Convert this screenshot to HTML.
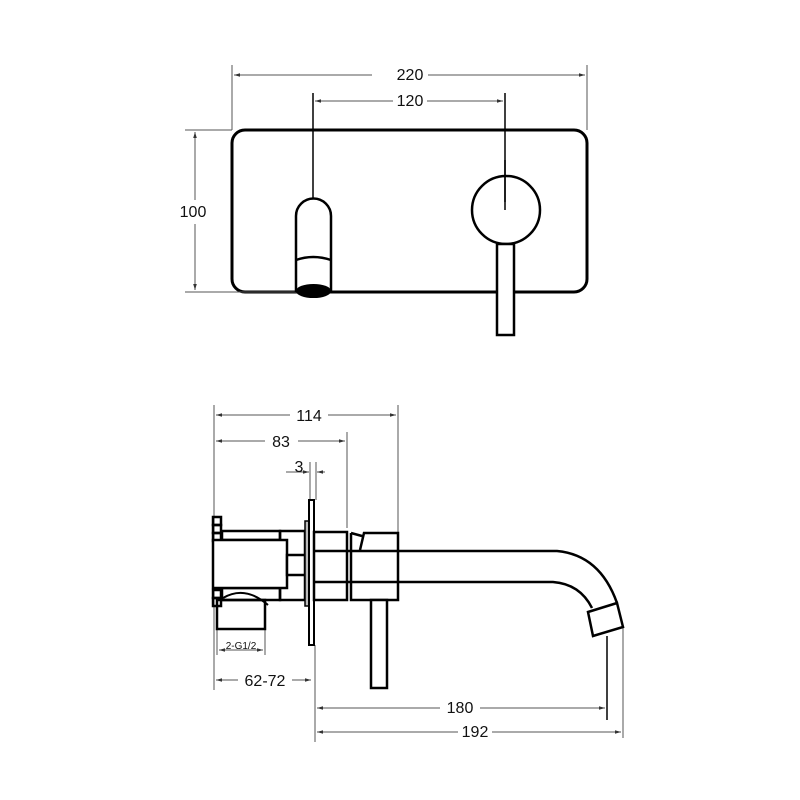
<!DOCTYPE html>
<html><head><style>
html,body{margin:0;padding:0;background:#fff;}
svg{display:block;}
text{font-family:"Liberation Sans",Arial,sans-serif;fill:#111;}
</style></head><body>
<svg width="800" height="800" viewBox="0 0 800 800" xmlns="http://www.w3.org/2000/svg">
<defs>
<marker id="a" viewBox="0 0 10 10" refX="10" refY="5" markerWidth="6" markerHeight="6" orient="auto-start-reverse"><path d="M0,2 L10,5 L0,8z" fill="#333"/></marker>
</defs>
<g fill="none" stroke="#000">
<rect x="232" y="130" width="355" height="162" rx="13" stroke-width="3"/>
<g stroke="#555" stroke-width="1">
<line x1="232" y1="65" x2="232" y2="130"/>
<line x1="587" y1="65" x2="587" y2="130"/>
<line x1="234" y1="75" x2="372" y2="75" marker-start="url(#a)"/>
<line x1="428" y1="75" x2="585" y2="75" marker-end="url(#a)"/>
<line x1="315" y1="101" x2="393" y2="101" marker-start="url(#a)"/>
<line x1="427" y1="101" x2="503" y2="101" marker-end="url(#a)"/>
<line x1="185" y1="130" x2="232" y2="130"/>
<line x1="185" y1="292" x2="300" y2="292"/>
<line x1="195" y1="132" x2="195" y2="200" marker-start="url(#a)"/>
<line x1="195" y1="224" x2="195" y2="290" marker-end="url(#a)"/>
</g>
<line x1="313" y1="93" x2="313" y2="199" stroke-width="1.5"/>
<line x1="505" y1="93" x2="505" y2="202" stroke-width="1.5"/>
<path d="M296,292 V216 A17.5,17.5 0 0 1 331,216 V292" stroke-width="2.5"/>
<path d="M296,260 Q313,254 331,260" stroke-width="2.5"/>
<ellipse cx="313.5" cy="291" rx="17" ry="6.5" fill="#000"/>
<circle cx="506" cy="210" r="34" stroke-width="2.5"/>
<rect x="497" y="244" width="17" height="91" stroke-width="2.5" fill="#fff"/>
<line x1="505" y1="210" x2="505" y2="160" stroke-width="1.5"/>

<g stroke="#555" stroke-width="1">
<line x1="214" y1="405" x2="214" y2="690"/>
<line x1="398" y1="405" x2="398" y2="532"/>
<line x1="347" y1="432" x2="347" y2="528"/>
<line x1="216" y1="415" x2="290" y2="415" marker-start="url(#a)"/>
<line x1="328" y1="415" x2="396" y2="415" marker-end="url(#a)"/>
<line x1="216" y1="441" x2="265" y2="441" marker-start="url(#a)"/>
<line x1="298" y1="441" x2="345" y2="441" marker-end="url(#a)"/>
<line x1="310" y1="462" x2="310" y2="500"/>
<line x1="316" y1="462" x2="316" y2="500"/>
<line x1="286" y1="472" x2="309" y2="472" marker-end="url(#a)"/>
<line x1="325" y1="472" x2="317" y2="472" marker-end="url(#a)"/>
<line x1="217" y1="630" x2="217" y2="655"/>
<line x1="265" y1="630" x2="265" y2="655"/>
<line x1="219" y1="650" x2="263" y2="650" marker-start="url(#a)" marker-end="url(#a)"/>
<line x1="216" y1="680" x2="238" y2="680" marker-start="url(#a)"/>
<line x1="292" y1="680" x2="311" y2="680" marker-end="url(#a)"/>
<line x1="315" y1="645" x2="315" y2="742"/>
<line x1="623" y1="628" x2="623" y2="738"/>
<line x1="317" y1="708" x2="440" y2="708" marker-start="url(#a)"/>
<line x1="480" y1="708" x2="605" y2="708" marker-end="url(#a)"/>
<line x1="317" y1="732" x2="458" y2="732" marker-start="url(#a)"/>
<line x1="492" y1="732" x2="621" y2="732" marker-end="url(#a)"/>
</g>
<line x1="607" y1="636" x2="607" y2="720" stroke-width="1.5"/>
<g stroke-width="2.5">
<rect x="213" y="517" width="8" height="8"/>
<rect x="213" y="525" width="8" height="8"/>
<rect x="213" y="533" width="8" height="8"/>
<rect x="213" y="590" width="8" height="8"/>
<rect x="213" y="598" width="8" height="8"/>
<rect x="222" y="531" width="58" height="9"/>
<rect x="280" y="531" width="25" height="69"/>
<rect x="222" y="588" width="58" height="12"/>
<rect x="213" y="540" width="74" height="48" fill="#fff"/>
<rect x="217" y="600" width="48" height="29"/>
<rect x="287" y="555" width="18" height="20" fill="#fff"/>
<path d="M223,598 Q245,585 268,605" stroke-width="2"/>
<rect x="305" y="521" width="4" height="85" stroke-width="1.5" fill="#bbb"/>
<rect x="309" y="500" width="5" height="145" stroke-width="2" fill="#fff"/>
<rect x="314" y="532" width="33" height="68"/>
<path d="M351,533 V600 H398 V533 H364 L360,550 M351,533 L362,536"/>
<path d="M314,551 H557 Q600,555 617,603 M314,582 H553 Q580,584 592,608"/>
<path d="M588,612 L617,603 L623,627 L593,636 Z" fill="#fff"/>
<rect x="371" y="600" width="16" height="88" fill="#fff"/>
</g>
</g>
<g font-size="16">
<text x="410" y="80" text-anchor="middle">220</text>
<text x="410" y="106" text-anchor="middle">120</text>
<text x="193" y="217" text-anchor="middle">100</text>
<text x="309" y="421" text-anchor="middle">114</text>
<text x="281" y="447" text-anchor="middle">83</text>
<text x="299" y="472" text-anchor="middle">3</text>
<text x="265" y="686" text-anchor="middle">62-72</text>
<text x="460" y="713" text-anchor="middle">180</text>
<text x="475" y="737" text-anchor="middle">192</text>
</g>
<text x="241" y="649" font-size="10" text-anchor="middle">2-G1/2</text>
</svg>
</body></html>
